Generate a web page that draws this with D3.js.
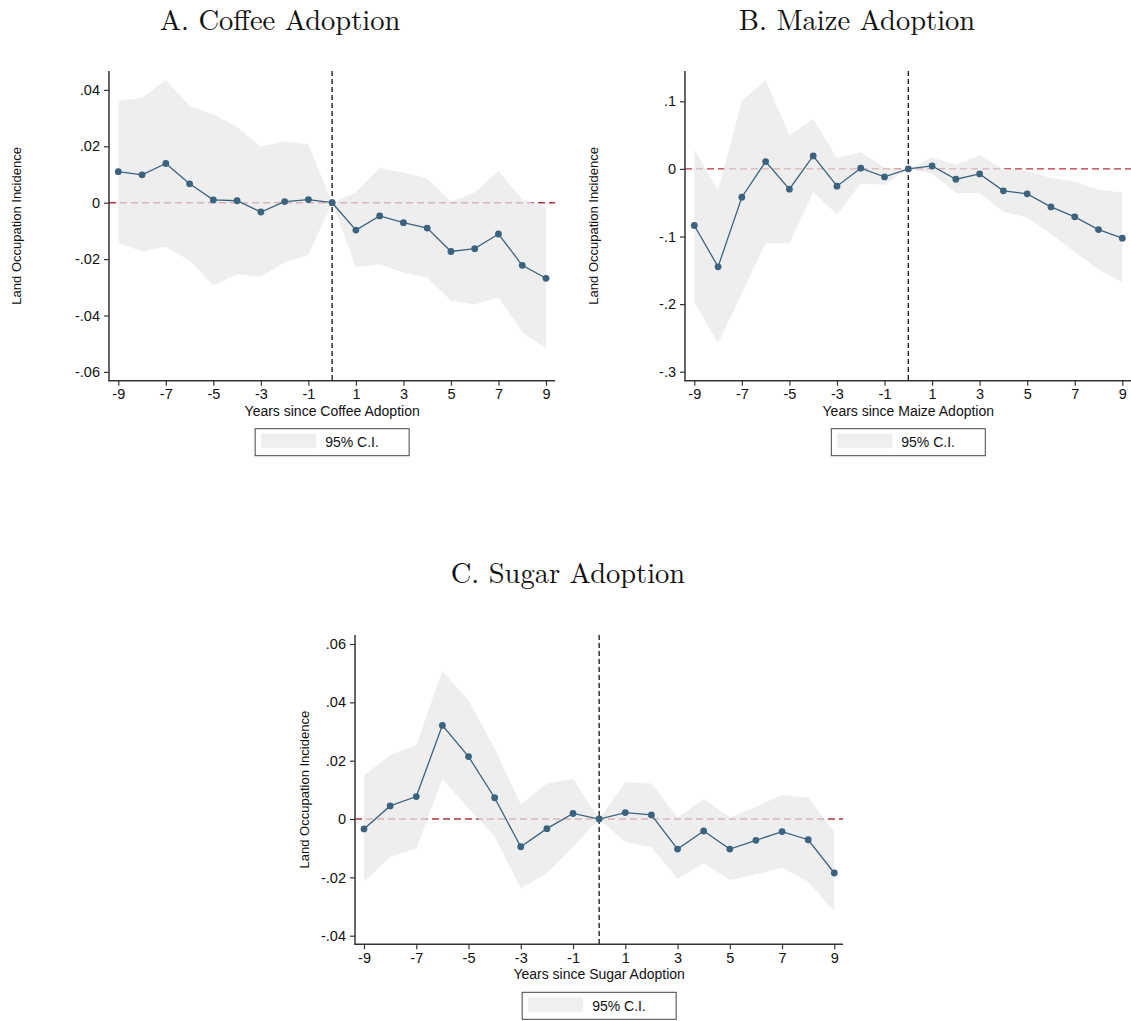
<!DOCTYPE html>
<html>
<head>
<meta charset="utf-8">
<script src="https://cdn.jsdelivr.net/npm/d3@7/dist/d3.min.js"></script>
<style>
  body { margin: 0; background: #fff; }
  svg { display: block; }
  .tick text { font-family: "Liberation Sans", Arial, sans-serif; font-size: 14.5px; fill: #111; }
</style>
</head>
<body>
<svg id="chart" width="1131" height="1021"></svg>
<script>
// Event-study estimates: years relative to adoption, point estimate and 95% CI bounds
const years = [-9, -8, -7, -6, -5, -4, -3, -2, -1, 0, 1, 2, 3, 4, 5, 6, 7, 8, 9];

const coffeeEst   = [0.0110, 0.0099, 0.0139, 0.0067, 0.0010, 0.0007, -0.0033, 0.0004, 0.0011, 0,
                     -0.0097, -0.0047, -0.0071, -0.0090, -0.0173, -0.0163, -0.0111, -0.0222, -0.0268];
const coffeeHigh  = [0.0361, 0.0372, 0.0434, 0.0343, 0.0313, 0.0269, 0.0198, 0.0218, 0.0206, 0,
                     0.0037, 0.0124, 0.0106, 0.0086, 0.0004, 0.0035, 0.0113, 0.0012, -0.0014];
const coffeeLow   = [-0.0142, -0.0173, -0.0156, -0.0206, -0.0293, -0.0254, -0.0263, -0.0211, -0.0185, 0,
                     -0.0229, -0.0218, -0.0248, -0.0265, -0.0348, -0.0360, -0.0335, -0.0459, -0.0516];

const maizeEst    = [-0.0837, -0.1448, -0.0419, 0.0108, -0.0300, 0.0192, -0.0256, 0.0010, -0.0118, 0,
                     0.0044, -0.0153, -0.0074, -0.0325, -0.0369, -0.0562, -0.0709, -0.0897, -0.1025];
const maizeHigh   = [0.0286, -0.0315, 0.1005, 0.1310, 0.0502, 0.0734, 0.0163, 0.0246, 0.0020, 0,
                     0.0167, 0.0059, 0.0202, 0.0000, -0.0030, -0.0133, -0.0187, -0.0310, -0.0350];
const maizeLow    = [-0.1970, -0.2580, -0.1840, -0.1100, -0.1100, -0.0340, -0.0675, -0.0217, -0.0236, 0,
                     -0.0069, -0.0355, -0.0355, -0.0635, -0.0720, -0.0966, -0.1227, -0.1490, -0.1680];

const sugarEst    = [-0.0034, 0.0045, 0.0077, 0.0321, 0.0214, 0.0073, -0.0095, -0.0033, 0.0019, 0,
                     0.0022, 0.0014, -0.0103, -0.0041, -0.0103, -0.0073, -0.0043, -0.0071, -0.0185];
const sugarHigh   = [0.0149, 0.0219, 0.0254, 0.0507, 0.0406, 0.0242, 0.0051, 0.0122, 0.0137, 0,
                     0.0126, 0.0122, 0.0005, 0.0069, 0.0005, 0.0042, 0.0082, 0.0074, -0.0046];
const sugarLow    = [-0.0215, -0.0129, -0.0101, 0.0137, 0.0037, -0.0061, -0.0238, -0.0186, -0.0095, 0,
                     -0.0080, -0.0097, -0.0206, -0.0152, -0.0209, -0.0189, -0.0167, -0.0215, -0.0318];

const xTicks = [-9, -7, -5, -3, -1, 1, 3, 5, 7, 9];
const coffeeYTicks = [0.04, 0.02, 0, -0.02, -0.04, -0.06];
const maizeYTicks  = [0.1, 0, -0.1, -0.2, -0.3];
const sugarYTicks  = [0.06, 0.04, 0.02, 0, -0.02, -0.04];

const titles = ["A. Coffee Adoption", "B. Maize Adoption", "C. Sugar Adoption"];
const xTitles = ["Years since Coffee Adoption", "Years since Maize Adoption", "Years since Sugar Adoption"];
const yTitle = "Land Occupation Incidence";
const legendLabel = "95% C.I.";

const svg = d3.select("#chart");
const sans = "'Liberation Sans', Arial, sans-serif";
const serif = "'Latin Modern Roman', 'CMU Serif', 'Liberation Serif', serif";

const lineColor = "#3b6380";
const refColor = "#b2333d";
const axisColor = "#333";

// Stata-style tick labels: plain hyphen minus, no leading zero (".04", "-.02")
function fmt(v) {
  if (Math.abs(v) < 1e-12) return "0";
  const s = String(+v.toFixed(4));
  return s.replace(/^(-?)0\./, "$1.");
}
const fmtInt = v => String(v);

function panel(cfg) {
  const g = svg.append("g");
  const x = d3.scaleLinear().domain([-9, 9]).range([cfg.x0, cfg.x1]);
  const y = d3.scaleLinear().domain(cfg.yDomain).range(cfg.yRange);

  const rows = years.map((yr, i) => ({yr, est: cfg.est[i], lo: cfg.lo[i], hi: cfg.hi[i]}));

  // zero reference line (sits beneath the translucent CI band)
  g.append("line")
    .attr("x1", cfg.axisX).attr("x2", cfg.axisRight)
    .attr("y1", y(0)).attr("y2", y(0))
    .attr("stroke", refColor).attr("stroke-width", 1.4)
    .attr("stroke-dasharray", "7,4");

  // confidence band
  g.append("path")
    .datum(rows)
    .attr("fill", "#e8e8e8").attr("fill-opacity", 0.72)
    .attr("d", d3.area().x(d => x(d.yr)).y0(d => y(d.lo)).y1(d => y(d.hi)));

  // adoption year marker
  g.append("line")
    .attr("x1", x(0)).attr("x2", x(0))
    .attr("y1", cfg.axisTop).attr("y2", cfg.axisBottom)
    .attr("stroke", "#111").attr("stroke-width", 1.3)
    .attr("stroke-dasharray", "5,3");

  // point estimates
  g.append("path")
    .datum(rows)
    .attr("fill", "none").attr("stroke", lineColor).attr("stroke-width", 1.3)
    .attr("d", d3.line().x(d => x(d.yr)).y(d => y(d.est)));
  g.selectAll("circle.pt").data(rows).join("circle")
    .attr("class", "pt")
    .attr("cx", d => x(d.yr)).attr("cy", d => y(d.est)).attr("r", 3.4)
    .attr("fill", lineColor);

  // axes
  const ya = g.append("g").attr("transform", `translate(${cfg.axisX},0)`)
    .call(d3.axisLeft(y).tickValues(cfg.yTicks).tickFormat(fmt).tickSize(5).tickPadding(4));
  ya.select(".domain").remove();
  ya.selectAll(".tick line").attr("stroke", axisColor).attr("stroke-width", 1.2);

  const xa = g.append("g").attr("transform", `translate(0,${cfg.axisBottom})`)
    .call(d3.axisBottom(x).tickValues(xTicks).tickFormat(fmtInt).tickSize(5).tickPadding(3));
  xa.select(".domain").remove();
  xa.selectAll(".tick line").attr("stroke", axisColor).attr("stroke-width", 1.2);

  g.append("line")
    .attr("x1", cfg.axisX).attr("x2", cfg.axisX)
    .attr("y1", cfg.axisTop).attr("y2", cfg.axisBottom + 0.6)
    .attr("stroke", axisColor).attr("stroke-width", 1.5);
  g.append("line")
    .attr("x1", cfg.axisX - 0.6).attr("x2", cfg.axisRight)
    .attr("y1", cfg.axisBottom).attr("y2", cfg.axisBottom)
    .attr("stroke", axisColor).attr("stroke-width", 1.5);

  // titles
  g.append("text")
    .attr("x", cfg.titleX).attr("y", cfg.titleY)
    .attr("text-anchor", "middle")
    .attr("font-family", serif).attr("font-size", 28.5)
    .attr("fill", "#111")
    .text(cfg.title);

  g.append("text")
    .attr("x", x(0)).attr("y", cfg.axisBottom + 35)
    .attr("text-anchor", "middle")
    .attr("font-family", sans).attr("font-size", 14)
    .attr("fill", "#111")
    .text(cfg.xTitle);

  const yc = (cfg.axisTop + cfg.axisBottom) / 2;
  g.append("text")
    .attr("transform", `translate(${cfg.yTitleX},${yc}) rotate(-90)`)
    .attr("text-anchor", "middle")
    .attr("font-family", sans).attr("font-size", 13)
    .attr("fill", "#111")
    .text(yTitle);

  // legend
  const lx = x(0) - 77, ly = cfg.axisBottom + 48;
  const lg = g.append("g").attr("transform", `translate(${lx},${ly})`);
  lg.append("rect").attr("x", 0).attr("y", 0).attr("width", 154).attr("height", 27)
    .attr("fill", "#fff").attr("stroke", "#444").attr("stroke-width", 1);
  lg.append("rect").attr("x", 6).attr("y", 5).attr("width", 55).attr("height", 14.5)
    .attr("fill", "#efefef");
  lg.append("text").attr("x", 70).attr("y", 18.5)
    .attr("font-family", sans).attr("font-size", 14).attr("fill", "#111")
    .text(legendLabel);
}

panel({
  title: titles[0], xTitle: xTitles[0],
  est: coffeeEst, lo: coffeeLow, hi: coffeeHigh,
  yDomain: [-0.06, 0.04], yRange: [371.9, 89.9], yTicks: coffeeYTicks,
  x0: 118.3, x1: 546, axisX: 109, axisRight: 555,
  axisTop: 71, axisBottom: 380.7,
  titleX: 280, titleY: 30, yTitleX: 21
});

panel({
  title: titles[1], xTitle: xTitles[1],
  est: maizeEst, lo: maizeLow, hi: maizeHigh,
  yDomain: [-0.3, 0.1], yRange: [371.7, 101.3], yTicks: maizeYTicks,
  x0: 694.3, x1: 1122.3, axisX: 685, axisRight: 1131,
  axisTop: 71, axisBottom: 380.7,
  titleX: 857, titleY: 30, yTitleX: 598
});

panel({
  title: titles[2], xTitle: xTitles[2],
  est: sugarEst, lo: sugarLow, hi: sugarHigh,
  yDomain: [-0.04, 0.06], yRange: [935.7, 644], yTicks: sugarYTicks,
  x0: 364, x1: 834.3, axisX: 355, axisRight: 843,
  axisTop: 635, axisBottom: 944.3,
  titleX: 568, titleY: 583, yTitleX: 309
});
</script>
</body>
</html>
